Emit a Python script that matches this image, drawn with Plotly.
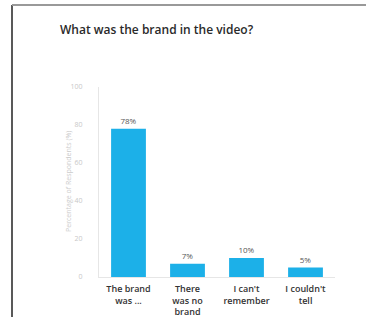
import plotly.graph_objects as go

categories = ["The brand<br>was ...", "There<br>was no<br>brand", "I can't<br>remember", "I couldn't<br>tell"]
values = [78, 7, 10, 5]
y_ticks = [0, 20, 40, 60, 80, 100]

W, H = 366, 317
L, R, T, B = 99, 31, 87, 40
pw, ph = W - L - R, H - T - B

def px_x(x):
    return (x - L) / pw

def px_y(y):
    return (H - B - y) / ph

fig = go.Figure(go.Bar(
    x=categories, y=values,
    marker=dict(color="#1CB0E8", line=dict(width=0)),
    texttemplate="%{y}%", textposition="outside",
    textfont=dict(size=8, color="#555", family="Open Sans"),
    cliponaxis=False,
))

fig.update_layout(
    width=W, height=H,
    margin=dict(l=L, r=R, t=T, b=B, autoexpand=False),
    paper_bgcolor="white", plot_bgcolor="white",
    bargap=0.41,
    showlegend=False,
    font=dict(family="Open Sans"),
    title=dict(text="What was the brand in the video?", xref="container", yref="container",
               x=60 / W, xanchor="left", y=1 - 30 / H, yanchor="middle",
               font=dict(size=12, color="#2a2a2a", family="Open Sans", weight=600)),
    xaxis=dict(showline=True, linecolor="#e6e6e6", linewidth=1, showgrid=False, automargin=False,
               tickfont=dict(size=9, color="#333", family="Open Sans", weight=600), ticks="",
               ticklabelstandoff=3),
    yaxis=dict(range=[0, 100], tickvals=y_ticks, showgrid=False, zeroline=False, automargin=False,
               showline=True, linecolor="#e6e6e6", linewidth=1,
               tickfont=dict(size=7, color="#c8c8c8"), ticks="", ticklabelstandoff=14),
    shapes=[
        dict(type="line", xref="paper", yref="paper", x0=px_x(12), x1=px_x(12), y0=px_y(5), y1=px_y(317),
             line=dict(color="#222", width=1.5)),
        dict(type="line", xref="paper", yref="paper", x0=px_x(12), x1=px_x(366), y0=px_y(5), y1=px_y(5),
             line=dict(color="#999", width=2)),
    ],
    annotations=[
        dict(text="Percentage of Respondents (%)", xref="paper", yref="paper", x=px_x(68), y=px_y(182),
             xanchor="center", yanchor="middle",
             textangle=-90, showarrow=False, font=dict(size=7, color="#cccccc")),
    ],
)

fig.write_html("out.html", config={"displayModeBar": False},
               post_script="document.body.style.margin='0';document.body.style.overflow='hidden';")
